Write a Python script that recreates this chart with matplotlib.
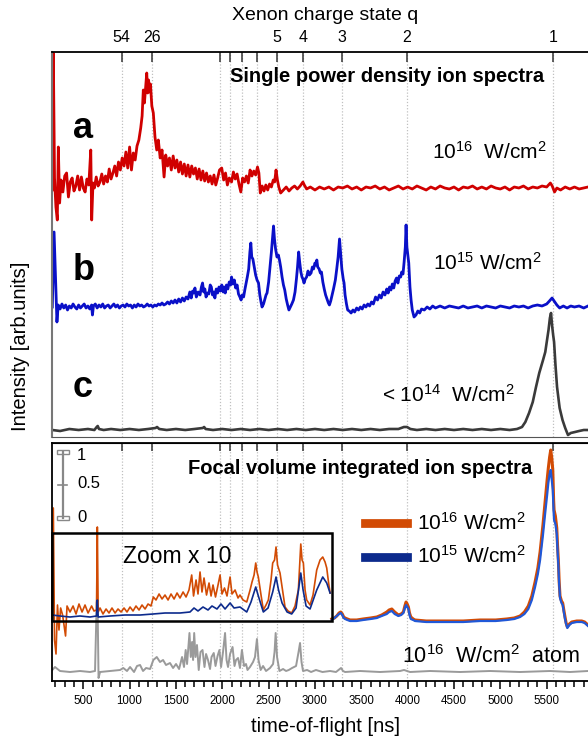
import matplotlib
matplotlib.use("Agg")
import matplotlib.pyplot as plt
from matplotlib.lines import Line2D
from matplotlib.patches import Rectangle

plt.rcParams["font.family"] = ["Liberation Sans", "DejaVu Sans"]
plt.rcParams["mathtext.default"] = "regular"

# charge state positions on the time-of-flight axis [ns]
q_tof = [916, 1240, 1976, 2085, 2216, 2380, 2590, 2874, 3291, 3990, 5568]
q_lab = ["54", "26", "", "", "", "", "5", "4", "3", "2", "1"]

# upper panel: single power density spectra, (tof, intensity above own baseline)
spec_a = [(166, -2), (177, 135), (190, 10), (205, -19), (220, -32), (231, 41), (245, -15),
          (260, 8), (280, -4), (300, 12), (320, 15), (340, -9), (360, 6), (380, 10), (400, -3),
          (420, 2), (440, 12), (460, -2), (480, 11), (500, 0), (520, -4), (540, 9), (560, 3),
          (581, 38), (591, -32), (605, 5), (620, 0), (640, 11), (660, 2), (680, 6), (700, 14),
          (720, 4), (740, 12), (760, 6), (780, 19), (800, 9), (820, 15), (840, 22), (860, 12),
          (880, 26), (900, 18), (920, 30), (940, 22), (960, 36), (980, 20), (1000, 41),
          (1020, 18), (1040, 35), (1060, 28), (1080, 42), (1100, 48), (1120, 60), (1135, 72),
          (1148, 98), (1160, 85), (1172, 100), (1185, 115), (1195, 95), (1205, 108), (1215, 96),
          (1225, 104), (1240, 82), (1256, 75), (1274, 51), (1293, 38), (1310, 48), (1330, 30),
          (1350, 38), (1372, 11), (1390, 33), (1410, 22), (1430, 30), (1450, 18), (1470, 32),
          (1490, 20), (1510, 28), (1530, 16), (1550, 26), (1570, 14), (1590, 24), (1610, 12),
          (1630, 23), (1650, 11), (1670, 22), (1690, 14), (1710, 20), (1730, 9), (1750, 19),
          (1770, 8), (1790, 17), (1810, 7), (1830, 15), (1850, 6), (1870, 12), (1890, 4),
          (1910, 13), (1930, 3), (1950, 10), (1970, 18), (1994, 20), (2015, 8), (2035, 15),
          (2055, 3), (2075, 10), (2100, 6), (2120, 16), (2140, 9), (2160, 14), (2180, 4),
          (2200, -4), (2220, 10), (2240, 6), (2260, 12), (2280, 5), (2300, 18), (2320, 12),
          (2340, 17), (2360, 13), (2380, 21), (2395, 15), (2410, -5), (2430, 2), (2450, -3),
          (2470, 3), (2490, -2), (2510, 4), (2530, 1), (2550, 8), (2565, 6), (2580, 18),
          (2595, 8), (2610, 1), (2630, -5), (2660, -2), (2690, 1), (2720, -3), (2750, 0),
          (2780, 2), (2810, -1), (2840, 2), (2870, 6), (2885, 3), (2910, -1), (2950, 1),
          (3000, -2), (3050, 1), (3100, -1), (3150, 1), (3200, -2), (3250, 1), (3300, 0),
          (3350, 2), (3400, -1), (3450, 1), (3500, -2), (3550, 1), (3600, 0), (3650, 2),
          (3700, -1), (3750, 1), (3800, -2), (3850, 0), (3900, 2), (3950, -1), (4000, 1),
          (4050, -1), (4100, 2), (4150, 0), (4200, -2), (4250, 1), (4300, -1), (4350, 2),
          (4400, 0), (4450, -1), (4500, 1), (4550, -2), (4600, 1), (4650, 0), (4700, 2),
          (4750, -1), (4800, 1), (4850, -1), (4900, 2), (4950, 0), (5000, -1), (5050, 1),
          (5100, -2), (5150, 1), (5200, 0), (5250, 2), (5300, -1), (5350, 1), (5400, 0),
          (5450, 2), (5500, 1), (5540, 5), (5560, 2), (5585, -4), (5610, 0), (5650, -2),
          (5700, 1), (5750, -1), (5800, 1), (5850, -1), (5900, 0), (5946, 1)]

spec_b = [(166, 0), (185, 75), (200, 30), (216, -15), (230, 2), (250, -2), (270, 3), (290, -1),
          (310, 2), (330, -3), (350, 1), (370, -1), (390, 3), (410, 0), (430, -2), (450, 2),
          (470, -1), (490, 1), (510, 3), (530, -1), (550, 1), (570, -2), (590, 2), (599, -8),
          (610, 1), (630, 3), (650, -1), (670, 2), (690, 0), (710, 3), (730, -1), (750, 1),
          (770, 2), (790, -1), (810, 1), (830, 3), (850, 0), (870, 2), (890, -1), (910, 1),
          (930, 2), (950, 0), (970, 3), (990, 1), (1010, 2), (1030, -1), (1050, 2), (1070, 0),
          (1090, 3), (1110, 1), (1130, 2), (1150, 0), (1170, 1), (1190, 3), (1210, 1), (1230, 2),
          (1250, 0), (1270, 2), (1290, 1), (1310, 3), (1330, 2), (1350, 4), (1370, 2), (1390, 3),
          (1410, 5), (1430, 3), (1450, 6), (1470, 4), (1490, 7), (1510, 4), (1530, 8), (1550, 5),
          (1570, 9), (1590, 6), (1610, 10), (1630, 8), (1650, 15), (1665, 9), (1680, 16),
          (1693, 14), (1705, 19), (1720, 10), (1740, 15), (1760, 12), (1775, 20), (1787, 24),
          (1800, 15), (1812, 18), (1825, 10), (1840, 14), (1855, 13), (1870, 22), (1882, 20),
          (1895, 12), (1910, 15), (1920, 9), (1935, 18), (1950, 14), (1965, 20), (1980, 16),
          (1995, 22), (2010, 15), (2020, 20), (2032, 14), (2045, 22), (2060, 18), (2075, 25),
          (2090, 22), (2100, 30), (2115, 23), (2130, 27), (2145, 19), (2160, 22), (2175, 13),
          (2190, 10), (2203, 7), (2215, 12), (2230, 10), (2245, 18), (2258, 24), (2270, 30),
          (2285, 38), (2298, 55), (2308, 64), (2318, 50), (2330, 48), (2345, 40), (2360, 32),
          (2375, 27), (2391, 24), (2405, 12), (2418, 5), (2429, 0), (2445, 3), (2460, 8),
          (2472, 12), (2483, 14), (2500, 25), (2515, 40), (2530, 55), (2543, 70), (2553, 81),
          (2563, 68), (2575, 58), (2590, 50), (2605, 52), (2617, 47), (2630, 40), (2645, 30),
          (2660, 22), (2674, 17), (2690, 8), (2705, 2), (2719, -3), (2735, 0), (2750, 3),
          (2768, 7), (2785, 15), (2800, 28), (2812, 40), (2824, 55), (2835, 45), (2848, 35),
          (2860, 30), (2870, 28), (2882, 24), (2895, 28), (2910, 30), (2925, 36), (2940, 32),
          (2958, 34), (2972, 40), (2985, 38), (3000, 44), (3010, 42), (3020, 47), (3030, 40),
          (3045, 38), (3058, 34), (3070, 35), (3085, 25), (3100, 18), (3115, 12), (3130, 8),
          (3145, 4), (3156, 2), (3170, 6), (3185, 12), (3200, 18), (3220, 27), (3235, 38),
          (3250, 50), (3265, 68), (3278, 52), (3290, 38), (3305, 28), (3314, 24), (3325, 12),
          (3340, 3), (3353, -3), (3370, -4), (3390, -6), (3410, -3), (3428, -5), (3450, -1),
          (3470, -3), (3490, 0), (3510, -2), (3530, 2), (3550, 0), (3570, 3), (3590, 1),
          (3610, 5), (3630, 3), (3654, 10), (3675, 7), (3695, 12), (3715, 9), (3735, 15),
          (3755, 12), (3775, 18), (3790, 14), (3805, 20), (3820, 17), (3835, 23), (3850, 19),
          (3865, 26), (3880, 29), (3895, 24), (3910, 31), (3925, 30), (3936, 35), (3950, 33),
          (3962, 45), (3975, 60), (3983, 82), (3992, 60), (4002, 52), (4012, 44), (4025, 20),
          (4037, 7), (4050, -3), (4069, -10), (4090, -8), (4110, -4), (4130, -6), (4150, -2),
          (4180, -3), (4210, 0), (4240, -2), (4270, 1), (4300, -1), (4350, 1), (4400, -1),
          (4450, 1), (4500, 0), (4550, -1), (4600, 1), (4650, -1), (4700, 0), (4750, 1),
          (4800, -1), (4850, 1), (4900, 0), (4950, -1), (5000, 1), (5050, 0), (5100, -1),
          (5150, 1), (5200, 0), (5250, 1), (5300, -1), (5350, 1), (5400, 2), (5450, 1),
          (5500, 3), (5530, 6), (5558, 9), (5580, 6), (5610, 2), (5640, -1), (5680, 1),
          (5720, -1), (5760, 1), (5800, 0), (5850, 1), (5900, -1), (5946, 1)]

spec_c = [(166, 0), (250, -1), (350, 1), (450, 0), (550, 1), (620, 0), (645, 3), (656, 4),
          (670, 1), (720, 0), (800, 1), (900, 0), (1000, 1), (1100, 0), (1200, 1), (1280, 2),
          (1296, 3), (1320, 1), (1400, 0), (1500, 1), (1600, 0), (1700, 1), (1790, 2), (1804, 3),
          (1820, 1), (1900, 0), (2000, 1), (2100, 0), (2200, 1), (2300, 0), (2400, 1), (2500, 0),
          (2600, 1), (2700, 0), (2800, 1), (2900, 0), (3000, 1), (3100, 0), (3200, 1), (3300, 0),
          (3400, 1), (3500, 0), (3600, 1), (3700, 0), (3800, 1), (3900, 1), (3960, 3), (3993, 3),
          (4030, 1), (4100, 0), (4200, 1), (4300, 0), (4400, 1), (4500, 0), (4600, 1), (4700, 0),
          (4800, 1), (4900, 0), (5000, 1), (5100, 0), (5180, 1), (5234, 3), (5270, 8), (5310, 17),
          (5350, 28), (5385, 43), (5420, 57), (5461, 70), (5485, 78), (5504, 90), (5520, 100),
          (5535, 112), (5547, 117), (5558, 105), (5570, 95), (5580, 88), (5595, 65), (5612, 43),
          (5640, 22), (5671, 10), (5700, 2), (5730, -5), (5760, -3), (5806, -2), (5850, -1),
          (5900, 0), (5946, 0)]

# lower panel: focal volume integrated spectra (outside the zoom box)
fv16 = [(3181, 1), (3210, 2), (3235, 4), (3260, 7), (3278, 8), (3295, 6), (3310, 3), (3325, 2),
        (3350, 1), (3379, 0), (3450, 0), (3519, 1), (3600, 2), (3667, 3), (3720, 5), (3775, 8),
        (3800, 10), (3829, 11), (3860, 8), (3900, 5), (3930, 6), (3954, 8), (3970, 14),
        (3983, 18), (3995, 16), (4008, 13), (4020, 7), (4034, 3), (4060, 1), (4080, 0),
        (4200, -1), (4422, -1), (4600, -1), (4781, 0), (4950, 0), (5069, 1), (5150, 2),
        (5213, 4), (5260, 8), (5302, 14), (5340, 24), (5375, 38), (5405, 52), (5429, 68),
        (5460, 95), (5483, 118), (5505, 140), (5518, 152), (5532, 163), (5544, 170), (5555, 162),
        (5566, 150), (5575, 120), (5580, 110), (5594, 104), (5609, 92), (5617, 75), (5626, 60),
        (5635, 38), (5644, 24), (5660, 19), (5673, 17), (5685, 10), (5698, 3), (5710, -3),
        (5723, -7), (5745, -4), (5771, -2), (5825, -1), (5878, -1), (5910, -2), (5946, -5)]

fv15 = [(3181, 0), (3210, 2), (3235, 4), (3260, 6), (3278, 7), (3295, 5), (3310, 2), (3325, 1),
        (3350, 0), (3379, -1), (3450, -1), (3519, 0), (3600, 1), (3667, 2), (3720, 4), (3775, 6),
        (3800, 8), (3829, 9), (3860, 6), (3900, 4), (3930, 5), (3954, 7), (3970, 12), (3983, 15),
        (3995, 13), (4008, 11), (4020, 5), (4034, 1), (4060, 0), (4080, -1), (4200, -2),
        (4422, -2), (4600, -2), (4781, -1), (4950, -1), (5069, 0), (5150, 1), (5213, 3),
        (5260, 6), (5302, 11), (5340, 20), (5375, 33), (5405, 46), (5429, 60), (5460, 85),
        (5483, 106), (5505, 125), (5518, 137), (5532, 146), (5544, 150), (5555, 140),
        (5566, 130), (5575, 108), (5580, 100), (5594, 96), (5609, 86), (5617, 70), (5626, 55),
        (5635, 35), (5644, 22), (5660, 17), (5673, 15), (5685, 8), (5698, 1), (5710, -4),
        (5723, -8), (5745, -5), (5771, -3), (5825, -2), (5878, -2), (5910, -3), (5946, -6)]

# inside the "Zoom x 10" box
zoom16 = [(166, 8), (177, 112), (190, -20), (206, -34), (222, 15), (238, -10), (256, 12),
          (277, 5), (309, -16), (325, 14), (357, 8), (390, 14), (422, 6), (454, 16), (487, 8),
          (519, 15), (552, 7), (590, 14), (616, 9), (643, 10), (652, 93), (661, 8), (681, 12),
          (713, 6), (746, 11), (778, 7), (810, 12), (843, 7), (875, 11), (908, 8), (940, 12),
          (972, 8), (1005, 13), (1037, 9), (1069, 14), (1102, 10), (1134, 15), (1167, 11),
          (1199, 16), (1231, 14), (1256, 23), (1285, 20), (1318, 26), (1350, 21), (1382, 25),
          (1415, 20), (1447, 26), (1480, 21), (1512, 27), (1544, 22), (1577, 28), (1609, 23),
          (1641, 30), (1670, 45), (1690, 24), (1717, 40), (1738, 26), (1760, 48), (1781, 28),
          (1803, 42), (1830, 25), (1857, 37), (1879, 24), (1900, 35), (1927, 23), (1954, 35),
          (1976, 45), (1997, 26), (2024, 32), (2051, 24), (2084, 43), (2105, 26), (2138, 30),
          (2170, 22), (2191, 25), (2224, 20), (2264, 18), (2300, 30), (2321, 38), (2343, 45),
          (2361, 57), (2375, 48), (2389, 43), (2418, 25), (2443, 10), (2472, 15), (2497, 20),
          (2526, 40), (2544, 57), (2564, 60), (2580, 73), (2596, 55), (2623, 47), (2650, 30),
          (2677, 13), (2710, 9), (2749, 7), (2785, 14), (2821, 30), (2847, 76), (2861, 60),
          (2875, 57), (2893, 30), (2911, 20), (2947, 15), (2979, 25), (3019, 50), (3055, 60),
          (3084, 63), (3109, 58), (3127, 52), (3146, 38), (3163, 27)]

zoom15 = [(166, 5), (249, 4), (357, 3), (465, 4), (573, 3), (643, 4), (652, 20), (661, 3),
          (789, 4), (951, 5), (1113, 5), (1253, 6), (1382, 7), (1544, 7), (1652, 8), (1695, 12),
          (1738, 9), (1792, 13), (1846, 10), (1889, 14), (1943, 11), (1986, 16), (2030, 11),
          (2084, 17), (2127, 12), (2191, 13), (2264, 8), (2310, 18), (2361, 33), (2389, 24),
          (2443, 8), (2494, 12), (2544, 28), (2580, 43), (2607, 30), (2645, 17), (2699, 8),
          (2749, 6), (2796, 12), (2847, 47), (2872, 30), (2904, 14), (2947, 11), (3019, 30),
          (3084, 43), (3127, 37), (3163, 27)]

# single atom spectrum at 1e16 W/cm2
atom16 = [(166, 2), (195, 5), (249, 1), (357, 0), (465, 1), (573, 0), (627, 1), (645, 70),
          (654, 72), (665, -6), (681, 0), (789, 1), (897, 2), (932, 4), (972, 1), (1005, 5),
          (1048, 0), (1080, 6), (1113, 7), (1145, 1), (1178, 4), (1221, 3), (1256, 12),
          (1293, 15), (1328, 10), (1361, 12), (1393, 7), (1436, 9), (1469, 4), (1501, 8),
          (1534, 3), (1566, 15), (1587, 5), (1605, 22), (1620, 8), (1646, 39), (1660, 15),
          (1674, 30), (1685, 12), (1697, 39), (1711, 15), (1727, 27), (1746, 2), (1765, 20),
          (1787, 22), (1808, 5), (1825, 18), (1846, 12), (1868, 3), (1884, 15), (1908, 19),
          (1927, 6), (1949, 16), (1969, 22), (1987, 5), (2008, 20), (2030, 39), (2046, 12),
          (2062, 5), (2084, 18), (2111, 25), (2132, 6), (2148, 12), (2170, 14), (2191, 4),
          (2212, 22), (2235, 6), (2256, 8), (2272, 2), (2299, 5), (2332, 10), (2353, 15),
          (2374, 33), (2391, 12), (2414, 2), (2440, 6), (2472, 1), (2515, 4), (2548, 8),
          (2564, 20), (2576, 39), (2591, 15), (2617, 1), (2656, 3), (2688, 1), (2717, 2),
          (2753, 4), (2796, 6), (2823, 20), (2839, 29), (2855, 10), (2871, 1), (2915, 2),
          (2958, 0), (3011, 2), (3081, 0), (3163, 1), (3227, 0), (3281, 4), (3303, 1), (3325, 0),
          (3486, 1), (3702, 0), (3918, 1), (3961, 2), (4026, 0), (4242, 1), (4566, 0), (4890, 1),
          (5213, 0), (5537, 1), (5752, 0), (5946, 1)]

# vertical offsets of the stacked traces
off_a, off_b, off_c = 249, 130, 7
off_fv, off_atom = 61, 9

W, H = 588, 740


def fx(px):
    return px / W


def fy(py):
    return 1 - py / H


def xy(pairs, off):
    return [p[0] for p in pairs], [p[1] + off for p in pairs]


fig = plt.figure(figsize=(W / 100, H / 100), dpi=100)
ax1 = fig.add_axes([fx(52.3), fy(437), 1 - fx(52.3), (437 - 51.5) / H])
ax2 = fig.add_axes([fx(52.3), fy(681), 1 - fx(52.3), (681 - 443) / H])

xmin, xmax = 166, 5946
for ax in (ax1, ax2):
    ax.set_xlim(xmin, xmax)
    ax.spines["right"].set_visible(False)
    for t in q_tof:
        ax.axvline(t, color="#c0c0c0", lw=0.9, ls=(0, (1, 1.5)), zorder=0)
    ax.set_yticks([])

ax1.set_ylim(0, 385.5)
ax2.set_ylim(0, 238)

# upper panel
ax1.plot(*xy(spec_a, off_a), color="#d00000", lw=2.0)
ax1.plot(*xy(spec_b, off_b), color="#0a10c8", lw=2.0)
ax1.plot(*xy(spec_c, off_c), color="#3a3a3a", lw=1.9)

ax1.spines["left"].set_color("#777777")
ax1.spines["left"].set_linewidth(1.5)
ax1.spines["bottom"].set_color("#555555")
ax1.spines["top"].set_linewidth(1.3)
ax1.xaxis.tick_top()
ax1.set_xticks(q_tof)
ax1.set_xticklabels(q_lab, fontsize=11.5)
ax1.tick_params(axis="x", direction="in", length=7.5, width=1.1, color="#333333", pad=5)

# lower panel
ax2.plot(*xy(atom16, off_atom), color="#9a9a9a", lw=1.4)
ax2.plot(*xy(zoom16, off_fv), color="#d24b04", lw=1.2)
ax2.plot(*xy(zoom15, off_fv), color="#0c2a8c", lw=1.2)
ax2.plot(*xy(fv16, off_fv), color="#d24b04", lw=2.2)
ax2.plot(*xy(fv15, off_fv), color="#2058d8", lw=1.6)

ax2.add_patch(Rectangle((xmin, 60), 3184 - xmin, 148.3 - 60, fill=False, ec="black",
                        lw=1.8, zorder=5, clip_on=False))

ax2.set_xticks(range(500, 6000, 500))
ax2.set_xticks(range(200, 6000, 100), minor=True)
ax2.tick_params(axis="x", which="major", direction="out", length=6, width=1.1,
                labelsize=8.3, pad=4)
ax2.tick_params(axis="x", which="minor", direction="out", length=4, width=1.1)
for s in ("left", "bottom", "top"):
    ax2.spines[s].set_linewidth(1.3)

top2 = ax2.secondary_xaxis("top")
top2.set_xticks(q_tof)
top2.set_xticklabels([])
top2.tick_params(direction="in", length=6, width=1.1, color="#333333")

# scale bar (0 .. 1)
sb = 0.0194
ax2.plot([sb, sb], [0.686, 0.963], transform=ax2.transAxes, color="#888888", lw=1.6)
ax2.plot([sb - 0.008, sb + 0.008], [0.824, 0.824], transform=ax2.transAxes,
         color="#888888", lw=1.2)
for yb in (0.686, 0.963):
    ax2.add_patch(Rectangle((sb - 0.011, yb - 0.008), 0.022, 0.016, transform=ax2.transAxes,
                            fill=False, ec="#888888", lw=1.0))
fig.text(fx(77), fy(455), "1", fontsize=12, va="center")
fig.text(fx(77), fy(484), "0.5", fontsize=12, va="center")
fig.text(fx(77), fy(517.7), "0", fontsize=12, va="center")

# text labels
fig.text(fx(325.6), fy(15), "Xenon charge state q", fontsize=14, ha="center", va="center")
fig.text(fx(20), fy(346), "Intensity [arb.units]", fontsize=14.5, rotation=90,
         ha="center", va="center")
fig.text(fx(325.6), fy(727), "time-of-flight [ns]", fontsize=14.5, ha="center", va="center")

fig.text(fx(387.5), fy(77), "Single power density ion spectra", fontsize=14.5,
         fontweight="bold", ha="center", va="center")
fig.text(fx(360.5), fy(468), "Focal volume integrated ion spectra", fontsize=14.5,
         fontweight="bold", ha="center", va="center")

for lab, py in (("a", 138), ("b", 280), ("c", 397)):
    fig.text(fx(73), fy(py), lab, fontsize=26, fontweight="bold", va="baseline")

fig.text(fx(432), fy(159), r"10$^{16}$  W/cm$^{2}$", fontsize=15, va="baseline")
fig.text(fx(433), fy(270), r"10$^{15}$ W/cm$^{2}$", fontsize=15, va="baseline")
fig.text(fx(382), fy(401.7), r"< 10$^{14}$  W/cm$^{2}$", fontsize=15, va="baseline")

fig.text(fx(123), fy(562.7), "Zoom x 10", fontsize=16.5, va="baseline")

fig.add_artist(Line2D([fx(365), fx(407)], [fy(523), fy(523)], color="#d24b04", lw=6.3))
fig.add_artist(Line2D([fx(365), fx(407)], [fy(557), fy(557)], color="#0c2a8c", lw=6.3))
fig.text(fx(417), fy(530), r"10$^{16}$ W/cm$^{2}$", fontsize=15, va="baseline")
fig.text(fx(417), fy(563), r"10$^{15}$ W/cm$^{2}$", fontsize=15, va="baseline")

fig.text(fx(402), fy(663.3), r"10$^{16}$  W/cm$^{2}$  atom", fontsize=15.5, va="baseline")

fig.savefig("out.png", dpi=100)
